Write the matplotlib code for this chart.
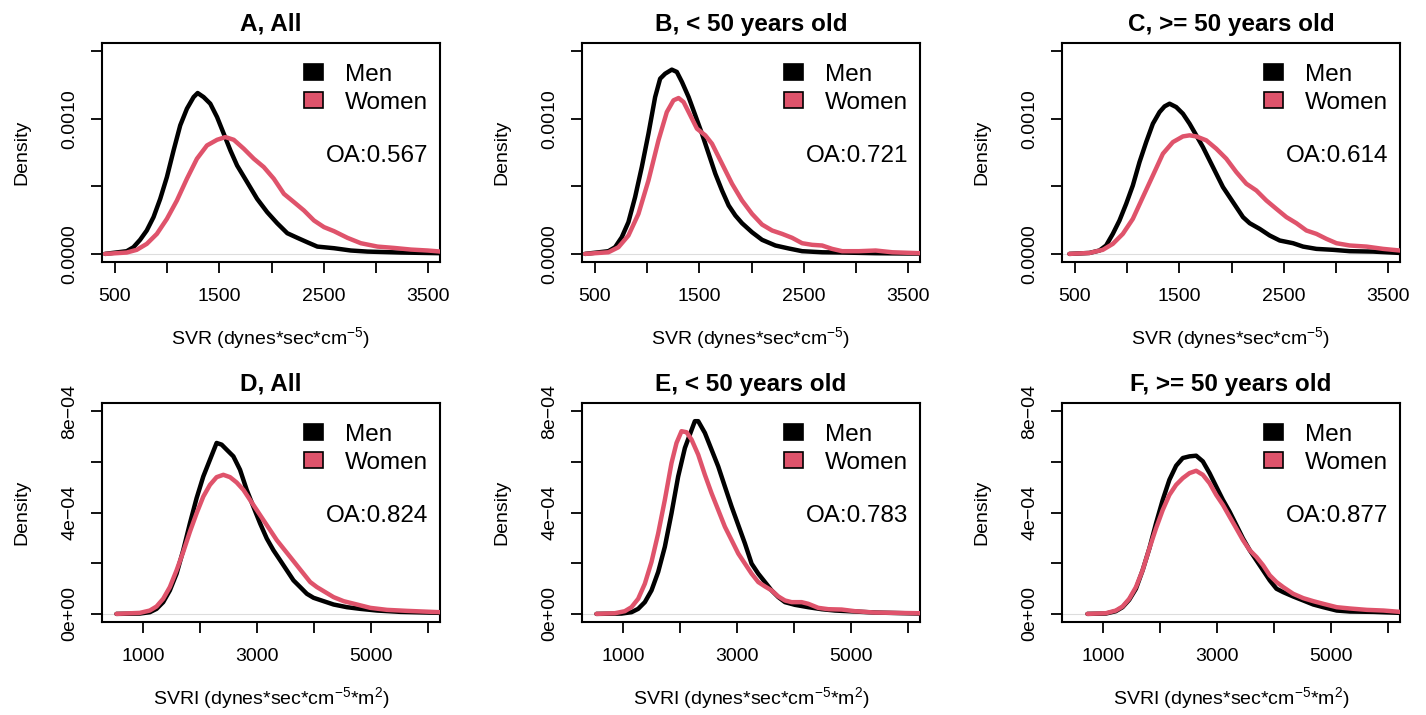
import matplotlib
matplotlib.use("Agg")
import numpy as np
import matplotlib.pyplot as plt
from matplotlib.patches import Patch

plt.rcParams['font.family'] = ['Liberation Sans', 'DejaVu Sans']
plt.rcParams['mathtext.fontset'] = 'custom'
plt.rcParams['mathtext.rm'] = 'Liberation Sans'
plt.rcParams['mathtext.default'] = 'regular'

MEN_COL = 'black'
WOMEN_COL = '#DF536B'

# ---- curves ----
# top row (SVR): density in units of 1e-3, bottom row (SVRI): units of 1e-4

# A, All
a_men_x = [404, 612, 676, 740, 804, 869, 933, 997, 1061, 1125, 1189, 1253, 1292, 1349, 1413, 1478, 1542, 1606, 1670, 1766, 1862, 1958, 2054, 2151, 2247, 2343, 2439, 2599, 2760, 2920, 3240, 3625]
a_men_y = [0, 0.020, 0.049, 0.104, 0.173, 0.272, 0.407, 0.568, 0.765, 0.951, 1.074, 1.160, 1.190, 1.160, 1.111, 1.012, 0.889, 0.765, 0.654, 0.531, 0.407, 0.309, 0.227, 0.153, 0.119, 0.086, 0.054, 0.042, 0.025, 0.017, 0.010, 0.005]
a_wom_x = [404, 612, 708, 804, 901, 997, 1093, 1189, 1285, 1381, 1478, 1558, 1638, 1734, 1830, 1926, 2022, 2119, 2215, 2311, 2407, 2503, 2599, 2727, 2856, 3016, 3176, 3336, 3497, 3625]
a_wom_y = [0, 0.010, 0.030, 0.074, 0.148, 0.259, 0.395, 0.556, 0.704, 0.802, 0.844, 0.864, 0.844, 0.778, 0.704, 0.642, 0.556, 0.444, 0.383, 0.321, 0.247, 0.198, 0.168, 0.119, 0.079, 0.054, 0.044, 0.032, 0.025, 0.017]

# B, < 50 years old
b_men_x = [404, 628, 692, 756, 820, 884, 948, 1012, 1076, 1124, 1172, 1236, 1284, 1333, 1397, 1461, 1525, 1589, 1653, 1717, 1781, 1845, 1909, 2005, 2101, 2229, 2357, 2485, 2677, 2869, 3190, 3622]
b_men_y = [0, 0.020, 0.049, 0.123, 0.235, 0.420, 0.642, 0.889, 1.160, 1.296, 1.333, 1.363, 1.346, 1.272, 1.160, 1.025, 0.889, 0.741, 0.593, 0.469, 0.358, 0.284, 0.227, 0.160, 0.104, 0.062, 0.040, 0.020, 0.012, 0.010, 0.005, 0.002]
b_wom_x = [404, 628, 724, 820, 916, 1012, 1108, 1188, 1252, 1301, 1349, 1413, 1477, 1557, 1621, 1717, 1813, 1909, 2005, 2101, 2197, 2293, 2389, 2485, 2581, 2677, 2773, 2869, 3029, 3190, 3350, 3622]
b_wom_y = [0, 0.012, 0.049, 0.136, 0.296, 0.543, 0.840, 1.049, 1.136, 1.153, 1.123, 1.025, 0.926, 0.877, 0.815, 0.667, 0.519, 0.395, 0.296, 0.217, 0.173, 0.148, 0.119, 0.079, 0.067, 0.062, 0.037, 0.020, 0.020, 0.025, 0.012, 0.005]

# C, >= 50 years old
c_men_x = [446, 638, 734, 798, 862, 926, 990, 1054, 1118, 1182, 1246, 1310, 1358, 1406, 1470, 1534, 1598, 1662, 1726, 1822, 1918, 2014, 2110, 2174, 2270, 2366, 2462, 2590, 2686, 2814, 2974, 3134, 3358, 3614]
c_men_y = [0, 0.007, 0.025, 0.062, 0.148, 0.247, 0.370, 0.506, 0.679, 0.827, 0.963, 1.049, 1.091, 1.111, 1.086, 1.037, 0.963, 0.877, 0.790, 0.642, 0.494, 0.383, 0.272, 0.227, 0.185, 0.136, 0.099, 0.079, 0.054, 0.037, 0.030, 0.020, 0.017, 0.007]
c_wom_x = [446, 638, 766, 862, 958, 1054, 1150, 1246, 1342, 1438, 1534, 1598, 1662, 1758, 1854, 1950, 2046, 2142, 2238, 2334, 2430, 2526, 2622, 2718, 2814, 2910, 3006, 3134, 3294, 3454, 3614]
c_wom_y = [0, 0.007, 0.030, 0.074, 0.148, 0.259, 0.420, 0.580, 0.741, 0.827, 0.869, 0.877, 0.869, 0.840, 0.778, 0.704, 0.605, 0.519, 0.469, 0.395, 0.333, 0.272, 0.227, 0.173, 0.148, 0.111, 0.079, 0.062, 0.054, 0.037, 0.025]

# D, All
d_men_x = [531, 941, 1117, 1235, 1352, 1469, 1587, 1704, 1821, 1938, 2056, 2173, 2290, 2378, 2466, 2584, 2701, 2818, 2935, 3053, 3170, 3287, 3405, 3522, 3639, 3757, 3874, 3991, 4167, 4343, 4578, 4812, 5106, 5516, 6220]
d_men_y = [0, 0.013, 0.066, 0.198, 0.463, 0.926, 1.587, 2.512, 3.570, 4.562, 5.421, 6.083, 6.744, 6.678, 6.479, 6.215, 5.686, 4.893, 4.232, 3.570, 2.975, 2.512, 2.116, 1.719, 1.322, 1.058, 0.793, 0.635, 0.502, 0.370, 0.264, 0.198, 0.132, 0.079, 0.040]
d_wom_x = [531, 941, 1117, 1235, 1352, 1469, 1587, 1704, 1821, 1938, 2056, 2173, 2290, 2408, 2525, 2642, 2760, 2877, 2994, 3111, 3229, 3346, 3463, 3581, 3698, 3815, 3933, 4050, 4167, 4343, 4519, 4754, 4988, 5281, 5634, 6220]
d_wom_y = [0, 0.040, 0.132, 0.291, 0.595, 1.058, 1.719, 2.446, 3.240, 3.967, 4.628, 5.091, 5.395, 5.487, 5.395, 5.184, 4.893, 4.496, 4.099, 3.702, 3.306, 2.909, 2.579, 2.248, 1.917, 1.587, 1.256, 1.058, 0.899, 0.661, 0.502, 0.370, 0.238, 0.159, 0.119, 0.066]

# E, < 50 years old
e_men_x = [531, 971, 1146, 1264, 1381, 1498, 1615, 1732, 1849, 1966, 2084, 2171, 2259, 2318, 2435, 2552, 2669, 2786, 2904, 3021, 3138, 3255, 3372, 3489, 3606, 3724, 3841, 4016, 4251, 4485, 4719, 4953, 5422, 6213]
e_men_y = [0, 0.013, 0.066, 0.198, 0.463, 0.926, 1.653, 2.645, 3.967, 5.421, 6.545, 7.074, 7.603, 7.603, 7.140, 6.479, 5.818, 5.025, 4.232, 3.504, 2.777, 1.983, 1.587, 1.256, 0.926, 0.661, 0.463, 0.357, 0.264, 0.185, 0.132, 0.106, 0.053, 0.013]
e_wom_x = [531, 854, 1029, 1146, 1264, 1381, 1498, 1615, 1732, 1849, 1937, 2025, 2113, 2201, 2318, 2435, 2552, 2669, 2786, 2904, 3021, 3138, 3255, 3372, 3489, 3606, 3724, 3841, 3958, 4133, 4251, 4426, 4602, 4836, 5071, 5422, 6213]
e_wom_y = [0, 0.026, 0.106, 0.264, 0.595, 1.190, 2.050, 3.174, 4.496, 5.950, 6.744, 7.207, 7.167, 6.876, 6.281, 5.487, 4.760, 4.099, 3.438, 2.909, 2.380, 1.983, 1.587, 1.256, 1.084, 0.926, 0.687, 0.529, 0.463, 0.463, 0.397, 0.238, 0.185, 0.172, 0.106, 0.053, 0.026]

# F, >= 50 years old
f_men_x = [724, 1047, 1223, 1341, 1458, 1576, 1693, 1811, 1928, 2046, 2163, 2281, 2398, 2516, 2633, 2750, 2868, 2985, 3103, 3220, 3338, 3455, 3573, 3690, 3808, 3925, 4043, 4160, 4336, 4513, 4689, 4865, 5100, 5335, 5746, 6216]
f_men_y = [0, 0.013, 0.106, 0.264, 0.555, 0.992, 1.719, 2.579, 3.570, 4.496, 5.289, 5.844, 6.149, 6.215, 6.241, 6.017, 5.554, 5.025, 4.496, 4.033, 3.504, 2.975, 2.512, 2.116, 1.719, 1.322, 0.992, 0.859, 0.687, 0.529, 0.370, 0.264, 0.132, 0.093, 0.079, 0.040]
f_wom_x = [724, 1047, 1223, 1341, 1458, 1576, 1693, 1811, 1928, 2046, 2163, 2281, 2398, 2516, 2633, 2750, 2868, 2985, 3103, 3220, 3338, 3455, 3573, 3690, 3808, 3925, 4043, 4160, 4336, 4513, 4689, 4865, 5100, 5335, 5629, 5923, 6216]
f_wom_y = [0, 0.026, 0.132, 0.291, 0.595, 1.058, 1.719, 2.579, 3.372, 4.099, 4.694, 5.091, 5.355, 5.554, 5.646, 5.487, 5.157, 4.694, 4.298, 3.835, 3.372, 2.909, 2.512, 2.248, 1.917, 1.521, 1.256, 1.058, 0.793, 0.621, 0.502, 0.397, 0.264, 0.212, 0.159, 0.132, 0.079]

titles = ['A, All', 'B, < 50 years old', 'C, >= 50 years old',
          'D, All', 'E, < 50 years old', 'F, >= 50 years old']
oa_values = [0.567, 0.721, 0.614, 0.824, 0.783, 0.877]
men_curves = [(a_men_x, a_men_y), (b_men_x, b_men_y), (c_men_x, c_men_y),
              (d_men_x, d_men_y), (e_men_x, e_men_y), (f_men_x, f_men_y)]
wom_curves = [(a_wom_x, a_wom_y), (b_wom_x, b_wom_y), (c_wom_x, c_wom_y),
              (d_wom_x, d_wom_y), (e_wom_x, e_wom_y), (f_wom_x, f_wom_y)]
row_units = [1e-3, 1e-4]

svr_xticks = [500, 1000, 1500, 2000, 2500, 3000, 3500]
svr_xlabels = ['500', '', '1500', '', '2500', '', '3500']
svr_yticks = [0, 0.0005, 0.0010, 0.0015]
svr_ylabels = ['0.0000', '', '0.0010', '']
svri_xticks = [1000, 2000, 3000, 4000, 5000, 6000]
svri_xlabels = ['1000', '', '3000', '', '5000', '']
svri_yticks = [0, 2e-4, 4e-4, 6e-4, 8e-4]
svri_ylabels = ['0e+00', '', '4e\u221204', '', '8e\u221204']

svr_label = r'SVR (dynes*sec*cm$^{-5}$)'
svri_label = r'SVRI (dynes*sec*cm$^{-5}$*m$^{2}$)'

fig = plt.figure(figsize=(14.26, 7.15), dpi=100)

W, H = 1426.0, 715.0
lefts = [102, 582, 1062]
tops = [43, 403]
aw, ah = 338, 219

for i in range(6):
    row, col = i // 3, i % 3
    ax = fig.add_axes([lefts[col] / W, 1 - (tops[row] + ah) / H, aw / W, ah / H])
    if row == 0:
        ax.set_xlim(375, 3615)
        ax.set_ylim(-0.00006, 0.00156)
        xt, xl, yt, yl, lab = svr_xticks, svr_xlabels, svr_yticks, svr_ylabels, svr_label
    else:
        ax.set_xlim(278, 6211)
        ax.set_ylim(-0.000032, 0.000832)
        xt, xl, yt, yl, lab = svri_xticks, svri_xlabels, svri_yticks, svri_ylabels, svri_label

    unit = row_units[row]
    ax.axhline(0, color='#dddddd', lw=0.8, zorder=1)
    mx, my = men_curves[i]
    wx, wy = wom_curves[i]
    ax.plot(mx, np.array(my) * unit, color=MEN_COL, lw=3.2,
            solid_joinstyle='round', solid_capstyle='round', zorder=2)
    ax.plot(wx, np.array(wy) * unit, color=WOMEN_COL, lw=3.2,
            solid_joinstyle='round', solid_capstyle='round', zorder=3)

    ax.set_xticks(xt)
    ax.set_xticklabels(xl, fontsize=14)
    ax.set_yticks(yt)
    ax.set_yticklabels(yl, fontsize=14, rotation=90, va='center')
    ax.tick_params(axis='both', direction='out', length=8, width=1.3)
    ax.tick_params(axis='x', pad=11)
    ax.tick_params(axis='y', pad=9)
    for sp in ax.spines.values():
        sp.set_linewidth(1.5)

    ax.set_xlabel(lab, fontsize=14, labelpad=14)
    ax.set_ylabel('Density', fontsize=14, labelpad=22)
    ax.set_title(titles[i], fontsize=17.5, fontweight='bold', pad=9)

    handles = [Patch(facecolor=MEN_COL, edgecolor='black', lw=1.2, label='Men'),
               Patch(facecolor=WOMEN_COL, edgecolor='black', lw=1.2, label='Women')]
    ax.legend(handles=handles, loc='upper right', bbox_to_anchor=(0.965, 0.905),
              frameon=False, fontsize=17.5, handlelength=0.8, handleheight=0.65,
              handletextpad=0.9, labelspacing=0.25, borderpad=0, borderaxespad=0)
    ax.text(0.965, 0.485, 'OA:%.3f' % oa_values[i], transform=ax.transAxes,
            ha='right', va='center', fontsize=17.5)

fig.savefig('out.png', dpi=100)
